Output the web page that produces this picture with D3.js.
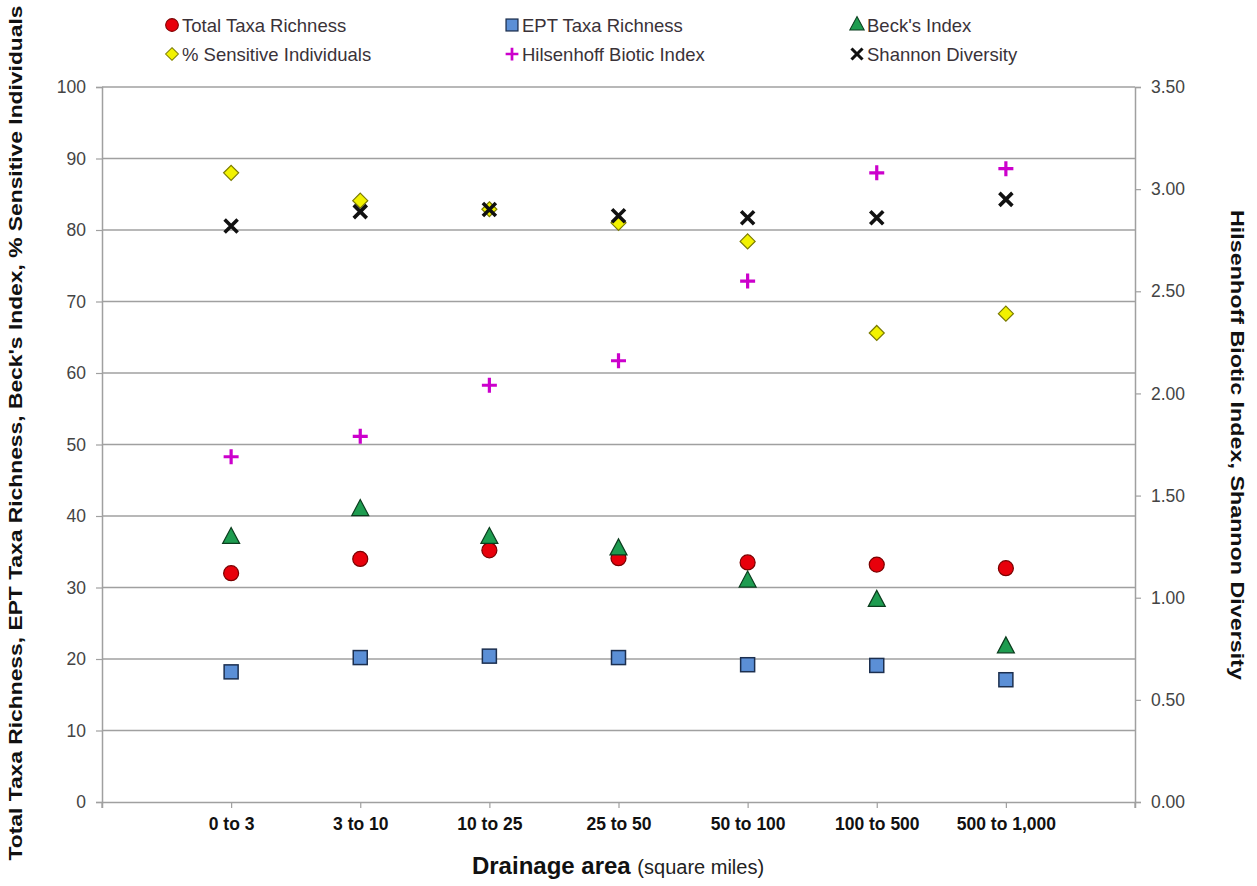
<!DOCTYPE html>
<html><head><meta charset="utf-8">
<script src="https://cdn.jsdelivr.net/npm/d3@7"></script>
<style>body{margin:0;background:#fff;} svg{display:block;}</style>
</head><body>
<svg id="chart" width="1257" height="886"></svg>
<script>
const categories = ["0 to 3","3 to 10","10 to 25","25 to 50","50 to 100","100 to 500","500 to 1,000"];
const totalTaxa   = [32.0, 34.0, 35.2, 34.1, 33.5, 33.2, 32.7];
const eptTaxa     = [18.2, 20.2, 20.4, 20.2, 19.2, 19.1, 17.1];
const becksIndex  = [37.0, 40.9, 37.0, 35.4, 30.9, 28.2, 21.7];
const pctSensitive= [88.0, 84.1, 82.9, 81.0, 78.4, 65.6, 68.3];
const hilsenhoff  = [1.69, 1.79, 2.04, 2.16, 2.55, 3.08, 3.10];
const shannon     = [2.82, 2.89, 2.90, 2.87, 2.86, 2.86, 2.95];
const leftTicks  = [0,10,20,30,40,50,60,70,80,90,100];
const rightTicks = [0,0.5,1,1.5,2,2.5,3,3.5];

const svg = d3.select("#chart");
const L = 102, R = 1135, T = 87, B = 802;
const x = d3.scalePoint().domain(categories).range([L, R]).padding(1);
const yL = d3.scaleLinear().domain([0,100]).range([B, T]);
const yR = d3.scaleLinear().domain([0,3.5]).range([B, T]);
const font = "Liberation Sans, Arial, sans-serif";

// gridlines
svg.append("g").selectAll("line").data(leftTicks.filter(d=>d>0)).join("line")
  .attr("x1", L).attr("x2", R).attr("y1", d=>yL(d)).attr("y2", d=>yL(d))
  .attr("stroke", "#a0a0a0").attr("stroke-width", 1.5);

// left axis
const gL = svg.append("g").attr("transform", `translate(${L},0)`)
  .call(d3.axisLeft(yL).tickValues(leftTicks).tickSize(6).tickPadding(10).tickFormat(d3.format("d")));
// right axis
const gR = svg.append("g").attr("transform", `translate(${R},0)`)
  .call(d3.axisRight(yR).tickValues(rightTicks).tickSize(6).tickPadding(10).tickFormat(d3.format(".2f")));
// bottom axis
const gB = svg.append("g").attr("transform", `translate(0,${B})`)
  .call(d3.axisBottom(x).tickSize(6).tickSizeOuter(6).tickPadding(10));
[gL,gR,gB].forEach(g=>{
  g.select(".domain").attr("stroke","#a0a0a0").attr("stroke-width",1.5);
  g.selectAll(".tick line").attr("stroke","#a0a0a0").attr("stroke-width",1.2);
  g.selectAll("text").attr("font-family", font).attr("font-size", 17.5).attr("fill","#444");
});
gB.selectAll("text").attr("font-weight","bold").attr("fill","#111");
svg.append("line").attr("x1",L).attr("x2",L).attr("y1",B).attr("y2",B+6).attr("stroke","#a0a0a0").attr("stroke-width",1.2);
svg.append("line").attr("x1",R).attr("x2",R).attr("y1",B).attr("y2",B+6).attr("stroke","#a0a0a0").attr("stroke-width",1.2);

// markers
function drawSeries(vals, scale, draw) {
  const g = svg.append("g");
  vals.forEach((v,i)=>{
    const gg = g.append("g").attr("transform", `translate(${x(categories[i])},${scale(v)})`);
    draw(gg);
  });
}
const mk = {
  circle: g=>g.append("circle").attr("r",7.5).attr("fill","#e8000b").attr("stroke","#7a0000").attr("stroke-width",1.2),
  square: g=>g.append("rect").attr("x",-7).attr("y",-7).attr("width",14).attr("height",14).attr("fill","#5b8fd6").attr("stroke","#1c2f4f").attr("stroke-width",1.5),
  tri: g=>g.append("path").attr("d","M0,-10L8.5,6L-8.5,6Z").attr("fill","#1e9c50").attr("stroke","#0b3d1e").attr("stroke-width",1.2),
  diamond: g=>g.append("path").attr("d","M0,-7.5L7.5,0L0,7.5L-7.5,0Z").attr("fill","#f2f200").attr("stroke","#7a7a00").attr("stroke-width",1.2),
  plus: g=>g.append("path").attr("d","M-7.5,0H7.5M0,-7.5V7.5").attr("stroke","#cc00cc").attr("stroke-width",3.2).attr("fill","none"),
  cross: g=>g.append("path").attr("d","M-6.5,-6.5L6.5,6.5M6.5,-6.5L-6.5,6.5").attr("stroke","#111").attr("stroke-width",3.6).attr("fill","none")
};
drawSeries(hilsenhoff, yR, mk.plus);
drawSeries(eptTaxa, yL, mk.square);
drawSeries(totalTaxa, yL, mk.circle);
drawSeries(becksIndex, yL, mk.tri);
drawSeries(pctSensitive, yL, mk.diamond);
drawSeries(shannon, yR, mk.cross);

// legend
const legendLabels = ["Total Taxa Richness","EPT Taxa Richness","Beck's Index","% Sensitive Individuals","Hilsenhoff Biotic Index","Shannon Diversity"];
const legendMarks = [mk.circle, mk.square, mk.tri, mk.diamond, mk.plus, mk.cross];
const legendCols = [172, 512, 857];
legendLabels.forEach((label,i)=>{
  const g = svg.append("g").attr("transform",`translate(${legendCols[i%3]},${i<3?25:54})`);
  legendMarks[i](g.append("g").attr("transform","scale(0.85)"));
  g.append("text").attr("x",10).attr("y",6.5).attr("font-family",font).attr("font-size",18.5)
    .attr("fill","#3a3238").text(label);
});

// axis titles
svg.append("text").attr("transform","translate(22,433) rotate(-90)").attr("text-anchor","middle")
  .attr("font-family",font).attr("font-size",18).attr("font-weight","bold").attr("fill","#111")
  .attr("textLength",855).attr("lengthAdjust","spacingAndGlyphs")
  .text("Total Taxa Richness,  EPT Taxa Richness,  Beck's Index, % Sensitive Individuals");
svg.append("text").attr("transform","translate(1231,445) rotate(90)").attr("text-anchor","middle")
  .attr("font-family",font).attr("font-size",18).attr("font-weight","bold").attr("fill","#111")
  .attr("textLength",470).attr("lengthAdjust","spacingAndGlyphs")
  .text("Hilsenhoff Biotic Index, Shannon Diversity");
const xt = svg.append("text").attr("x",618).attr("y",874).attr("text-anchor","middle").attr("font-family",font).attr("fill","#111");
xt.append("tspan").attr("font-size",24).attr("font-weight","bold").text("Drainage area ");
xt.append("tspan").attr("font-size",20).attr("fill","#222").text("(square miles)");
</script>
</body></html>
